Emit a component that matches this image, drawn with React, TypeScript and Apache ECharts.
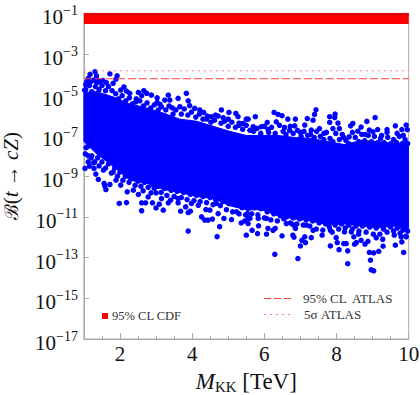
import React, { useEffect, useRef } from "react";
import * as echarts from "echarts";

const yTickExponents = [-1, -3, -5, -7, -9, -11, -13, -15, -17];
const xMajorTicks = [2, 4, 6, 8, 10];
const xMinorTicks = [1.5, 2, 2.5, 3, 3.5, 4, 4.5, 5, 5.5, 6, 6.5, 7, 7.5, 8, 8.5, 9, 9.5, 10];

const cdfBand = [0.03, 0.1];
const cdfBandTop = [0.075, 0.1];
const atlas95 = 6.1e-5;
const atlas5s = 1.5e-4;

// solid core of the cloud: M_KK, log10 upper, log10 lower
const coreM = [1.0, 1.35, 1.8, 2.27, 2.74, 3.2, 3.66, 4.12, 4.58, 5.04, 5.5, 5.92, 6.38, 6.84, 7.3, 7.76, 8.22, 8.68, 9.14, 9.6, 10];
const coreUpper = [-4.9, -4.85, -5.1, -5.45, -5.65, -5.9, -6.2, -6.3, -6.55, -6.8, -7.0, -7.0, -7.0, -7.1, -7.15, -7.3, -7.45, -7.25, -7.3, -7.4, -7.35];
const coreLower = [-7.3, -7.9, -8.5, -9.2, -9.35, -9.65, -9.8, -10.0, -10.1, -10.45, -10.65, -10.65, -10.95, -11.1, -11.2, -11.4, -11.35, -11.45, -11.55, -11.45, -11.7];

// [M_KK, log10 B]
const upperPoints = [
  [1.31, -3.87], [1.17, -4.0], [1.35, -4.07], [1.72, -3.98], [1.92, -4.07], [1.89, -4.23], [1.08, -4.36], [1.26, -4.28], [1.45, -4.36], [1.81, -4.44],
  [2.11, -4.62], [2.02, -4.77], [2.18, -4.82], [2.27, -4.93], [2.51, -4.89], [2.66, -4.8], [2.74, -4.93], [2.6, -5.05], [2.87, -5.02], [3.03, -5.15],
  [3.03, -5.38], [3.34, -5.02], [3.24, -5.26], [3.38, -5.26], [3.61, -5.18], [3.84, -4.93], [3.89, -5.3], [3.66, -5.59], [3.11, -5.48], [3.93, -5.54],
  [4.07, -5.67], [4.21, -5.75], [4.32, -5.87], [4.81, -5.75], [4.53, -6.08], [4.65, -6.0], [5.02, -5.87], [5.21, -5.92], [5.0, -6.2], [5.27, -6.08],
  [5.5, -6.2], [4.86, -6.13], [5.41, -6.41], [1.02, -4.77], [5.55, -6.2], [5.75, -6.08], [6.08, -6.36], [6.27, -5.87], [6.38, -5.97], [6.49, -6.03],
  [6.33, -6.33], [6.65, -6.2], [6.86, -6.2], [6.84, -6.53], [7.19, -6.17], [7.12, -6.49], [7.35, -6.25], [7.43, -5.74], [7.39, -5.97], [7.3, -6.74],
  [7.53, -6.66], [7.81, -6.08], [7.96, -5.95], [7.95, -6.12], [7.81, -6.36], [8.04, -6.39], [7.9, -6.66], [8.08, -6.66], [8.45, -6.41], [8.39, -6.53],
  [8.68, -6.59], [8.59, -6.79], [8.84, -6.31], [9.07, -6.12], [8.91, -6.74], [9.14, -6.71], [9.01, -6.82], [9.4, -6.71], [9.4, -6.85], [9.63, -6.53],
  [9.81, -6.71], [9.93, -6.49], [9.68, -6.9], [9.96, -6.72], [8.35, -7.07], [5.92, -6.57], [5.69, -6.57], [6.56, -6.61], [6.1, -6.7], [6.7, -6.75],
  [7.0, -6.85], [7.65, -6.9], [8.2, -7.1], [8.8, -6.95], [9.25, -7.0], [9.85, -7.0], [5.3, -6.5], [4.4, -6.2], [2.45, -5.2], [3.45, -5.65],
  [1.12, -4.2], [1.2, -4.35], [1.36, -4.25], [1.52, -4.3], [1.62, -4.4], [1.36, -4.4], [1.05, -4.5],
];

const upperFill = [
  [1.05, -4.75], [1.15, -4.55], [1.22, -4.85], [1.32, -4.6], [1.42, -4.75], [1.5, -4.55], [1.6, -4.8], [1.68, -4.6], [1.78, -4.8], [1.88, -4.95],
  [1.96, -5.2], [2.06, -5.05], [2.16, -5.3], [2.26, -5.15], [2.34, -5.45], [2.44, -5.35], [2.55, -5.3], [2.65, -5.55], [2.75, -5.4], [2.85, -5.65],
  [2.95, -5.5], [3.06, -5.75], [3.15, -5.6], [3.27, -5.75], [3.36, -5.55], [3.47, -5.95], [3.55, -5.75], [3.7, -5.95], [3.78, -5.7], [3.88, -6.0],
  [3.98, -5.85], [4.1, -6.1], [4.2, -5.95], [4.3, -6.2], [4.42, -6.05], [4.52, -6.35], [4.62, -6.25], [4.72, -6.05], [4.8, -6.4], [4.9, -6.3],
  [5.0, -6.55], [5.1, -6.35], [5.2, -6.6], [5.3, -6.4], [5.4, -6.7], [5.5, -6.5], [5.6, -6.75], [5.7, -6.8], [5.8, -6.65], [5.9, -6.9],
  [6.0, -6.55], [6.12, -6.85], [6.2, -6.6], [6.3, -6.9], [6.42, -6.5], [6.52, -6.8], [6.6, -6.95], [6.72, -6.55], [6.8, -6.9], [6.92, -6.75],
  [7.02, -7.05], [7.1, -6.8], [7.2, -7.0], [7.28, -6.95], [7.38, -7.1], [7.45, -6.8], [7.55, -7.05], [7.65, -7.2], [7.72, -6.85], [7.82, -7.15],
  [7.9, -7.3], [7.98, -6.9], [8.08, -7.2], [8.16, -6.95], [8.26, -7.25], [8.34, -7.4], [8.44, -6.85], [8.52, -7.1], [8.62, -7.3], [8.7, -6.95],
  [8.78, -7.25], [8.88, -7.0], [8.97, -7.3], [9.05, -7.05], [9.14, -7.35], [9.22, -7.15], [9.32, -7.35], [9.42, -7.1], [9.5, -7.4], [9.58, -7.2],
  [9.66, -7.35], [9.74, -7.05], [9.82, -7.4], [9.9, -7.2], [9.97, -7.4],
];

const lowerPoints = [
  [1.03, -8.62], [1.15, -8.51], [1.28, -8.62], [1.33, -8.9], [1.4, -9.16], [1.54, -8.7], [1.58, -9.49], [1.61, -9.66], [1.56, -9.36], [1.72, -9.41],
  [1.89, -9.2], [2.02, -9.44], [1.81, -8.8], [1.98, -10.34], [2.18, -10.3], [2.2, -9.77], [2.37, -9.69], [2.6, -10.31], [2.6, -10.7], [2.71, -10.31],
  [2.51, -9.9], [2.64, -9.72], [2.78, -10.02], [2.86, -9.82], [2.9, -10.31], [3.0, -10.56], [3.09, -10.38], [3.2, -10.67], [3.15, -10.1], [3.0, -9.82],
  [3.34, -10.31], [3.4, -10.18], [3.61, -10.31], [3.61, -10.1], [3.68, -10.72], [3.82, -10.51], [3.89, -10.79], [3.95, -10.72], [3.98, -10.34], [4.17, -10.43],
  [4.26, -11.0], [4.35, -11.16], [4.44, -11.16], [4.56, -11.11], [4.38, -10.64], [4.49, -10.67], [4.88, -11.08], [4.72, -10.84], [4.67, -10.34], [5.09, -11.13],
  [5.23, -10.75], [5.36, -11.3], [5.46, -11.2], [5.55, -11.08], [5.55, -11.33], [3.89, -11.7], [4.76, -11.48], [4.69, -11.97], [5.5, -11.9], [1.06, -7.6],
  [1.12, -8.0], [1.2, -8.1], [1.3, -8.3], [5.81, -11.82], [5.84, -11.44], [6.06, -11.85], [6.1, -11.57], [6.24, -11.66], [6.3, -11.57], [6.49, -11.93],
  [6.29, -12.84], [6.79, -11.9], [6.82, -12.0], [6.86, -11.57], [6.79, -11.38], [6.93, -13.05], [7.0, -12.43], [7.04, -12.15], [7.12, -11.98], [7.14, -12.26],
  [7.3, -12.02], [7.16, -11.41], [7.35, -11.66], [7.6, -11.9], [7.83, -12.43], [7.99, -12.02], [8.02, -12.26], [8.07, -12.61], [8.2, -12.31], [8.27, -12.31],
  [8.31, -12.67], [8.31, -13.3], [8.48, -11.98], [8.5, -12.34], [8.55, -12.26], [8.61, -11.85], [8.68, -12.15], [8.79, -12.34], [8.87, -12.2], [8.91, -12.75],
  [9.03, -12.77], [8.94, -13.13], [8.96, -13.6], [9.03, -13.65], [9.1, -12.03], [9.17, -12.69], [9.29, -12.44], [9.28, -12.1], [9.6, -11.9], [9.63, -12.39],
  [9.81, -12.23], [9.86, -12.75], [9.79, -11.98], [9.93, -11.98], [7.83, -11.66], [8.22, -11.74], [8.41, -11.74], [5.6, -11.08], [5.66, -11.66], [5.83, -11.08],
  [6.06, -11.08], [6.61, -11.33], [5.53, -10.84],
];

const lowerFill = [
  [1.04, -7.9], [1.1, -7.55], [1.12, -8.3], [1.22, -8.0], [1.27, -8.35], [1.38, -8.1], [1.42, -8.5], [1.5, -8.3], [1.6, -8.6], [1.68, -8.4],
  [1.76, -8.85], [1.85, -8.6], [1.93, -9.0], [2.0, -8.8], [2.08, -9.2], [2.15, -9.0], [2.25, -9.3], [2.33, -9.1], [2.42, -9.45], [2.5, -9.25],
  [2.58, -9.5], [2.68, -9.3], [2.78, -9.55], [2.88, -9.4], [2.95, -9.6], [3.05, -9.5], [3.14, -9.8], [3.24, -9.6], [3.3, -9.95], [3.42, -9.7],
  [3.5, -10.0], [3.58, -9.75], [3.7, -10.05], [3.76, -9.8], [3.86, -10.15], [3.95, -9.9], [4.05, -10.2], [4.12, -9.95], [4.22, -10.25], [4.3, -10.0],
  [4.4, -10.3], [4.5, -10.05], [4.58, -10.4], [4.65, -10.15], [4.78, -10.45], [4.85, -10.25], [4.95, -10.65], [5.02, -10.35], [5.12, -10.75], [5.2, -10.4],
  [5.3, -10.85], [5.38, -10.55], [5.48, -10.9], [5.55, -10.6], [5.65, -10.85], [5.72, -10.55], [5.82, -10.9], [5.9, -10.6], [6.0, -11.05], [6.08, -10.75],
  [6.18, -11.15], [6.26, -10.85], [6.36, -11.2], [6.44, -10.95], [6.54, -11.1], [6.62, -11.0], [6.72, -11.3], [6.8, -11.05], [6.9, -11.35], [6.98, -11.1],
  [7.08, -11.4], [7.16, -11.15], [7.26, -11.45], [7.34, -11.2], [7.44, -11.6], [7.52, -11.3], [7.62, -11.65], [7.7, -11.35], [7.8, -11.5], [7.88, -11.75],
  [7.96, -11.4], [8.06, -11.6], [8.14, -11.35], [8.24, -11.55], [8.34, -11.4], [8.44, -11.6], [8.54, -11.45], [8.62, -11.7], [8.72, -11.45], [8.82, -11.75],
  [8.92, -11.5], [9.02, -11.85], [9.1, -11.55], [9.2, -11.85], [9.3, -11.6], [9.4, -11.75], [9.5, -11.5], [9.58, -11.7], [9.68, -11.55], [9.76, -11.8],
  [9.84, -11.65], [9.92, -11.95], [9.97, -11.7],
];

const SERIF = '"Liberation Serif", "Times New Roman", serif';
const GRAY = "#aaaaaa";

export default function App() {
  const ref = useRef<HTMLDivElement>(null);
  useEffect(() => {
    document.body.style.margin = "0";
    const chart = echarts.init(ref.current!, undefined, { renderer: "svg" });
    const pts = [...upperPoints, ...upperFill, ...lowerPoints, ...lowerFill].map(([m, e]) => [m, Math.pow(10, e)]);
    const core = coreM.map((m, i) => [m, Math.pow(10, coreUpper[i]), Math.pow(10, coreLower[i])]);
    const baseX = {
      type: "value",
      min: 1,
      max: 10,
      splitLine: { show: false },
      axisLine: { lineStyle: { color: GRAY, width: 1 } },
    };
    chart.setOption({
      animation: false,
      backgroundColor: "#fff",
      grid: { left: 83.9, right: 11.3, top: 13.3, bottom: 56, show: true, borderColor: GRAY, borderWidth: 1, backgroundColor: "transparent", outerBoundsMode: "none" },
      xAxis: [
        {
          ...baseX,
          axisTick: { inside: true, length: 3, customValues: xMinorTicks, lineStyle: { color: GRAY } },
          axisLabel: { show: false },
        },
        {
          ...baseX,
          position: "bottom",
          axisTick: { inside: true, length: 6, customValues: xMajorTicks, lineStyle: { color: GRAY } },
          axisLabel: { customValues: xMajorTicks, fontFamily: SERIF, fontSize: 21, color: "#111", margin: 4, formatter: (v: number) => String(v) },
          name: "{i|M}{sub|KK}{n| [TeV]}",
          nameLocation: "middle",
          nameGap: 31,
          nameTextStyle: {
            rich: {
              i: { fontFamily: SERIF, fontStyle: "italic", fontSize: 23, color: "#111", lineHeight: 20, verticalAlign: "top" },
              sub: { fontFamily: SERIF, fontSize: 15, color: "#111", lineHeight: 12, padding: [9, 0, 0, 0], verticalAlign: "top" },
              n: { fontFamily: SERIF, fontSize: 23, color: "#111", lineHeight: 20, verticalAlign: "top" },
            },
          },
        },
      ],
      yAxis: {
        type: "log",
        logBase: 10,
        min: 1e-17,
        max: 1e-1,
        splitLine: { show: false },
        minorTick: { show: false },
        axisLine: { lineStyle: { color: GRAY, width: 1 } },
        axisTick: { inside: true, length: 5, customValues: yTickExponents.map((e) => Math.pow(10, e)), lineStyle: { color: GRAY } },
        axisLabel: {
          customValues: yTickExponents.map((e) => Math.pow(10, e)),
          margin: 6,
          padding: [8, 0, 0, 0],
          formatter: (v: number) => `{b|10}{s|\u2212${Math.abs(Math.round(Math.log10(v)))}}`,
          rich: {
            b: { fontFamily: SERIF, fontSize: 21, color: "#111", lineHeight: 28 },
            s: { fontFamily: SERIF, fontSize: 14, color: "#111", lineHeight: 14, verticalAlign: "top" },
          },
        },
        name: "{s|\u212C}{n|(}{i|t}{n| \u2192 }{i|cZ}{n|)}",
        nameLocation: "middle",
        nameGap: 62,
        nameRotate: 90,
        nameTextStyle: {
          rich: {
            s: { fontFamily: '"DejaVu Serif", serif', fontSize: 19, color: "#111" },
            n: { fontFamily: SERIF, fontSize: 21, color: "#111" },
            i: { fontFamily: SERIF, fontStyle: "italic", fontSize: 21, color: "#111" },
          },
        },
      },
      series: [
        {
          type: "custom",
          name: "core",
          data: core,
          clip: true,
          silent: true,
          z: 2,
          renderItem: (params: any, api: any) => {
            const i = params.dataIndex;
            if (i >= core.length - 1) return null;
            const a = core[i];
            const b = core[i + 1];
            const points = [api.coord([a[0], a[1]]), api.coord([b[0], b[1]]), api.coord([b[0], b[2]]), api.coord([a[0], a[2]])];
            return { type: "polygon", shape: { points }, style: { fill: "#0000ff", stroke: "#0000ff", lineWidth: 1 } };
          },
        },
        {
          type: "scatter",
          name: "points",
          data: pts,
          symbol: "circle",
          symbolSize: 5.5,
          itemStyle: { color: "#0000ff", opacity: 1 },
          clip: true,
          z: 3,
        },
        {
          type: "line",
          name: "95% CL CDF",
          data: [],
          markArea: { silent: true, itemStyle: { color: "#ff0000", opacity: 1 }, data: [[{ yAxis: cdfBand[0] }, { yAxis: cdfBand[1] }]] },
          z: 1,
        },
        {
          type: "line",
          name: "CDF edge",
          data: [],
          markArea: { silent: true, itemStyle: { color: "#e00000", opacity: 1 }, data: [[{ yAxis: cdfBandTop[0] }, { yAxis: cdfBandTop[1] }]] },
          z: 1,
        },
        {
          type: "line",
          name: "95% CL ATLAS",
          data: [[1, atlas95], [10, atlas95]],
          symbol: "none",
          lineStyle: { color: "#ff4040", width: 1, type: [8, 3] },
          z: 4,
        },
        {
          type: "line",
          name: "5 sigma ATLAS",
          data: [[1, atlas5s], [10, atlas5s]],
          symbol: "none",
          lineStyle: { color: "#ff8080", width: 1, type: [2, 4] },
          z: 4,
        },
      ],
      graphic: [
        { type: "rect", shape: { x: 102, y: 313, width: 6, height: 6 }, style: { fill: "#ff0000" } },
        { type: "text", x: 112, y: 309, style: { text: "95% CL CDF", font: `12.5px ${SERIF}`, fill: "#333" } },
        { type: "line", shape: { x1: 264, y1: 298.5, x2: 294, y2: 298.5 }, style: { stroke: "#ff4040", lineWidth: 1, lineDash: [7, 3] } },
        { type: "line", shape: { x1: 264, y1: 314.5, x2: 294, y2: 314.5 }, style: { stroke: "#ff8080", lineWidth: 1, lineDash: [2, 4] } },
        { type: "text", x: 303, y: 292, style: { text: "95% CL  ATLAS", font: `13px ${SERIF}`, fill: "#333" } },
        { type: "text", x: 304, y: 308, style: { text: "5\u03C3 ATLAS", font: `13px ${SERIF}`, fill: "#333" } },
      ],
    });
    return () => chart.dispose();
  }, []);
  return <div ref={ref} style={{ position: "absolute", left: 0, top: 0, width: 420, height: 395 }} />;
}
